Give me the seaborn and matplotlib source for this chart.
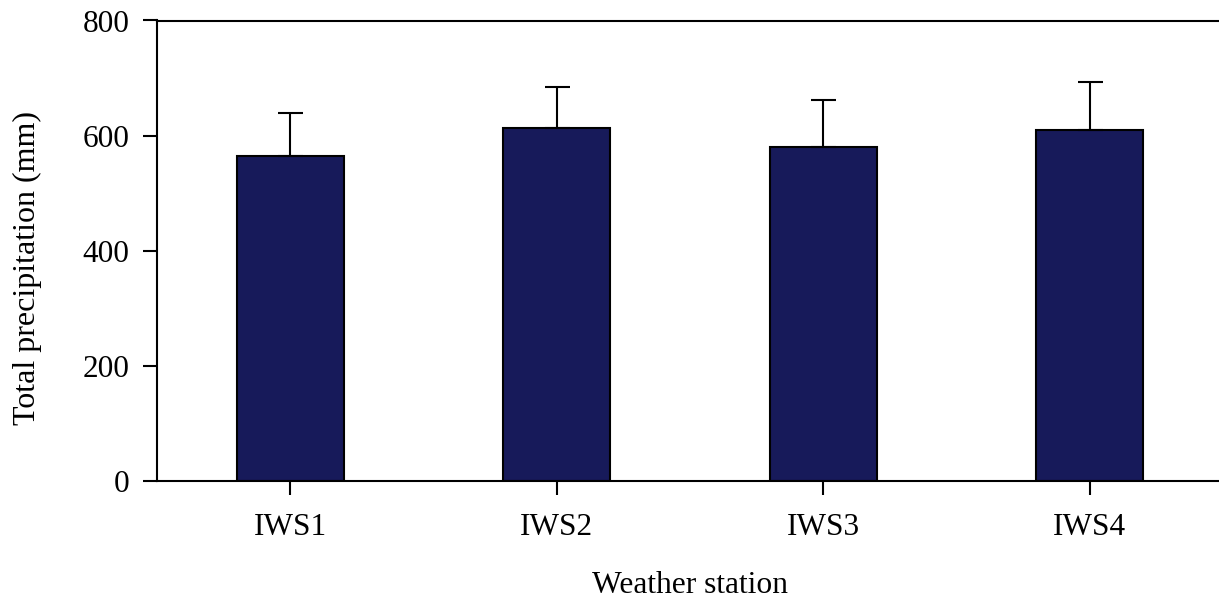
import matplotlib
matplotlib.use("Agg")
import matplotlib.pyplot as plt
import seaborn as sns
import pandas as pd

stations = ["IWS1", "IWS2", "IWS3", "IWS4"]
precip = [565, 613, 580, 610]
err = [75, 71, 82, 83]
yticks = [0, 200, 400, 600, 800]

sns.set_style("white")
plt.rcParams['font.family'] = ['Liberation Serif', 'DejaVu Serif']

W, H = 1219, 600
fig = plt.figure(figsize=(W / 100, H / 100), dpi=100)
left, right, top, bottom = 157, 1223, 20.5, 481
ax = fig.add_axes([left / W, (H - bottom) / H, (right - left) / W, (bottom - top) / H])

df = pd.DataFrame({"station": stations, "precip": precip})
sns.barplot(data=df, x="station", y="precip", color="#171a5a", saturation=1,
            edgecolor="black", linewidth=1.5, width=0.4, errorbar=None, ax=ax)
ax.errorbar(range(len(stations)), precip, yerr=[[0] * len(err), err], fmt="none",
            ecolor="black", elinewidth=1.5, capsize=9, capthick=1.5, zorder=5)

ax.set_xlim(-0.5, 3.5)
ax.set_ylim(0, 800)
ax.set_yticks(yticks)
ax.set_yticklabels([str(v) for v in yticks])
for s in ["left", "bottom", "top"]:
    ax.spines[s].set_visible(True)
    ax.spines[s].set_color("black")
    ax.spines[s].set_linewidth(1.5)
ax.spines["right"].set_visible(False)
ax.tick_params(axis="both", direction="out", length=10, width=1.5, color="black",
               labelsize=22.5, labelcolor="black", left=True, bottom=True)
ax.tick_params(axis="x", pad=13)
ax.tick_params(axis="y", pad=10)
ax.set_xlabel("Weather station", fontsize=22.7, color="black", labelpad=21)
ax.set_ylabel("Total precipitation (mm)", fontsize=23, color="black", labelpad=29)
ax.yaxis.label.set_y(0.4625)

fig.savefig("out.png", dpi=100)
